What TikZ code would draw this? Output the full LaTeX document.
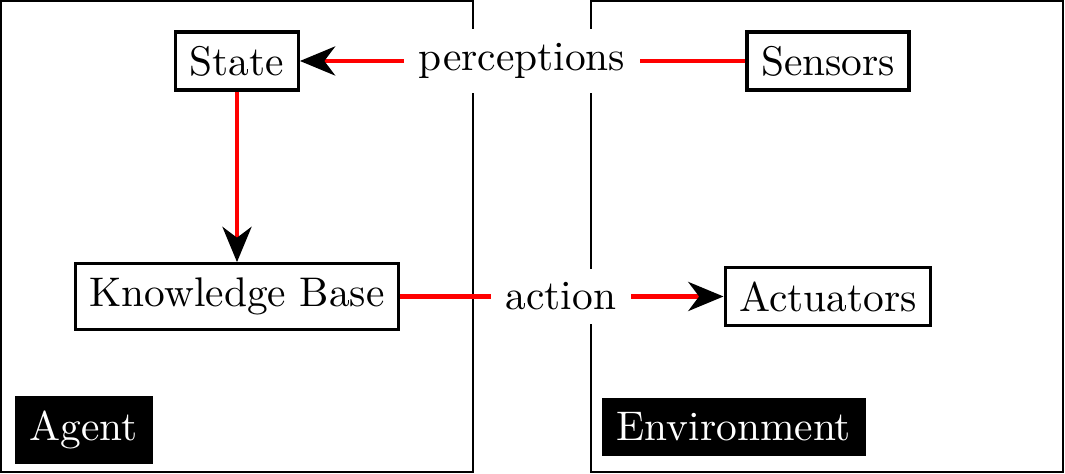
\documentclass[tikz,border=0pt]{standalone}
\usetikzlibrary{arrows.meta}
\begin{document}
\begin{tikzpicture}[x=0.2415pt,y=-0.2415pt,
  frame/.style={draw=black,line width=0.4pt},
  box/.style={draw=black,line width=0.8pt,fill=white,inner sep=3.4pt},
  lbl/.style={fill=white,inner sep=3.4pt},
  tag/.style={fill=black,text=white,inner sep=3.6pt},
  redline/.style={draw=red,line width=1.1pt},
  tip/.style={-{Stealth[black,length=8.5pt,width=7pt,inset=2.6pt]}}]
\useasboundingbox (0,0) rectangle (1065,474);
\draw[frame] (1,1) rectangle (473,472);
\draw[frame] (591,1) rectangle (1063,472);
\node[box] (state) at (237,61) {State};
\node[box] (sensors) at (828,61) {Sensors};
\node[box] (kb) at (237,296.5) {Knowledge Base};
\node[box] (actuators) at (828,296.5) {Actuators};
\node[lbl] (perc) at (522,61) {perceptions};
\node[lbl] (act) at (561,296.5) {action};
\node[tag,anchor=base west] (agent) at (14,441) {Agent};
\node[tag,anchor=base west] (env) at (601,441) {Environment};
\draw[redline] (sensors) -- (perc);
\draw[redline,tip] (perc) -- (state);
\draw[redline,tip] (state) -- (kb);
\draw[redline] (kb) -- (act);
\draw[redline,tip] (act) -- (actuators);
\end{tikzpicture}
\end{document}
